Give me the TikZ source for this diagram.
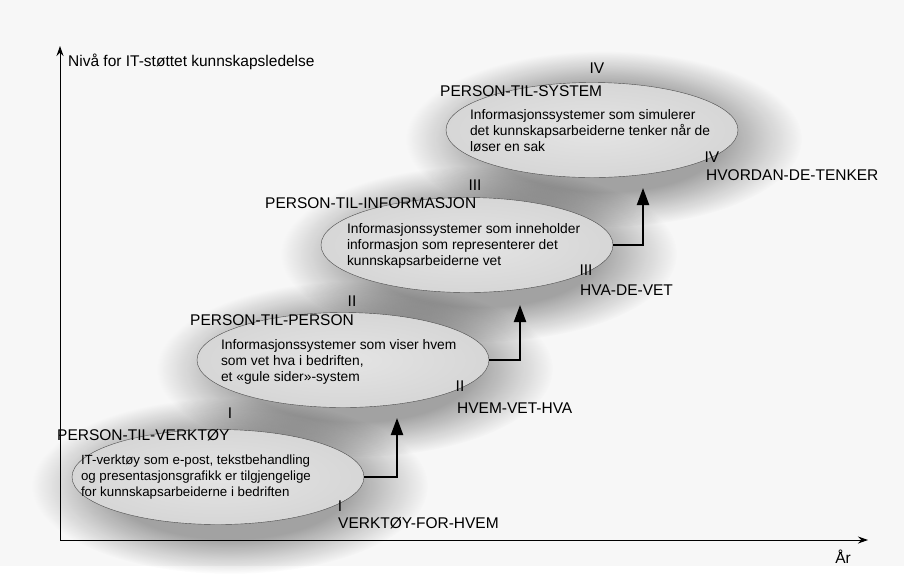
\documentclass[tikz,border=0pt]{standalone}
\usepackage{fontspec}
\setmainfont{Liberation Sans}
\usetikzlibrary{shapes.geometric,arrows.meta,positioning,fadings}

\pgfdeclareradialshading{halosh}{\pgfpointorigin}{color(0bp)=(white); color(15bp)=(white); color(25bp)=(black); color(50bp)=(black)}
\pgfdeclarefading{halo}{\pgfuseshading{halosh}}
\pgfdeclarelayer{paper}
\pgfdeclarelayer{shade}
\pgfsetlayers{paper,shade,main}

\tikzstyle{stage} = [ellipse, draw=black!70, thin, inner color=gray!21, outer color=gray!32, minimum width=292pt, minimum height=95pt, inner sep=0pt]
\tikzstyle{halo shadow} = [fill=black, opacity=0.34, path fading=halo]
\tikzstyle{desc} = [font=\fontsize{13.8}{16}\selectfont, inner sep=0pt, align=left]
\tikzstyle{title} = [font=\fontsize{15.5}{18}\selectfont, inner sep=0pt, anchor=west]
\tikzstyle{numeral} = [font=\fontsize{15.5}{18}\selectfont, inner sep=0pt]
\tikzstyle{arrow} = [line width=2.2pt, -{Triangle[length=17pt,width=12pt]}]
\tikzstyle{axis} = [line width=1pt, -{Stealth[length=10pt,width=7pt]}]

\begin{document}
\begin{tikzpicture}[x=1pt,y=-1pt]
\begin{pgfonlayer}{paper}
\useasboundingbox[fill=gray!6] (0,0) rectangle (904,566);
\end{pgfonlayer}

% axes
\coordinate (origin) at (60,540);
\coordinate (ytop) at (60,46);
\coordinate (xend) at (868,540);
\draw [axis] (origin) -- (ytop);
\draw [axis] (origin) -- (xend);
\node (ylab) [title] at (68,62) {Nivå for IT-støttet kunnskapsledelse};
\node (xlab) [numeral] at (843,557) {År};

% stages
\node (e1) [stage] at (218,477) {};
\node (e2) [stage] at (343,360) {};
\node (e3) [stage] at (467,245) {};
\node (e4) [stage] at (592,130) {};
\node (d1) [desc, font=\fontsize{13.3}{16}\selectfont, right=9pt of e1.west] {IT-verktøy som e-post, tekstbehandling\\og presentasjonsgrafikk er tilgjengelige\\for kunnskapsarbeiderne i bedriften};
\node (d2) [desc, right=24pt of e2.west, yshift=-2pt] {Informasjonssystemer som viser hvem\\som vet hva i bedriften,\\et «gule sider»-system};
\node (d3) [desc, right=26pt of e3.west, yshift=-1pt] {Informasjonssystemer som inneholder\\informasjon som representerer det\\kunnskapsarbeiderne vet};
\node (d4) [desc, right=24pt of e4.west, yshift=-1pt] {Informasjonssystemer som simulerer\\det kunnskapsarbeiderne tenker når de\\løser en sak};

% shadows
\begin{pgfonlayer}{shade}
\foreach \e in {e1,e2,e3,e4}
  \fill [halo shadow] ([shift={(12,9)}]\e.center) ellipse [x radius=198, y radius=88];
\end{pgfonlayer}

% titles
\node (n1) [numeral] at (230,413) {I};
\node (p1) [title] at (57,435) {PERSON-TIL-VERKTØY};
\node (n2) [numeral] at (352,301) {II};
\node (p2) [title] at (190,320) {PERSON-TIL-PERSON};
\node (n3) [numeral] at (475,185) {III};
\node (p3) [title] at (265,203) {PERSON-TIL-INFORMASJON};
\node (n4) [numeral] at (597,68) {IV};
\node (p4) [title] at (440,91) {PERSON-TIL-SYSTEM};

% phases
\node (t1) [numeral] at (340,506) {I};
\node (h1) [title] at (338,523) {VERKTØY-FOR-HVEM};
\node (t2) [numeral] at (460,386) {II};
\node (h2) [title] at (457,408) {HVEM-VET-HVA};
\node (t3) [numeral] at (586,270) {III};
\node (h3) [title] at (580,290) {HVA-DE-VET};
\node (t4) [numeral] at (712,157) {IV};
\node (h4) [title] at (706,175) {HVORDAN-DE-TENKER};

% steps
\coordinate (c1) at (397,418);
\coordinate (c2) at (520,305);
\coordinate (c3) at (643,188);
\draw [arrow] (e1.east) -| (c1);
\draw [arrow] (e2.east) -| (c2);
\draw [arrow] (e3.east) -| (c3);
\end{tikzpicture}
\end{document}
